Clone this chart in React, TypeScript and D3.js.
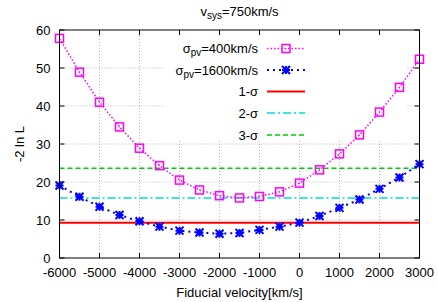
import * as d3 from "d3";

// fiducial velocity grid [km/s]
const velocities = [
  -6000, -5500, -5000, -4500, -4000, -3500, -3000, -2500, -2000, -1500,
  -1000, -500, 0, 500, 1000, 1500, 2000, 2500, 3000,
];
// -2 ln L, sigma_pv = 400 km/s
const lnL400 = [
  57.8, 48.9, 41.0, 34.5, 28.9, 24.3, 20.5, 17.9, 16.4, 15.8,
  16.2, 17.4, 19.7, 23.2, 27.4, 32.4, 38.4, 44.9, 52.3,
];
// -2 ln L, sigma_pv = 1600 km/s
const lnL1600 = [
  19.1, 16.1, 13.5, 11.3, 9.65, 8.25, 7.2, 6.7, 6.4, 6.6,
  7.4, 8.25, 9.3, 11.05, 13.2, 15.4, 18.2, 21.2, 24.7,
];
const sigmaLevels = [
  { name: "1-σ", value: 9.3, color: "#ff0000", dash: "", width: 2 },
  { name: "2-σ", value: 15.8, color: "#00dddd", dash: "8,3,2,3", width: 1.5 },
  { name: "3-σ", value: 23.6, color: "#00cc00", dash: "5,3", width: 1.5 },
];
const xTicks = [-6000, -5000, -4000, -3000, -2000, -1000, 0, 1000, 2000, 3000];
const yTicks = [0, 10, 20, 30, 40, 50, 60];

const W = 438;
const H = 302;
const margin = { top: 30, right: 18.5, bottom: 44, left: 59.5 };
const FONT = "'Liberation Sans', Arial, sans-serif";

function Square({ x, y }: { x: number; y: number }) {
  return (
    <g>
      <rect x={x - 4} y={y - 4} width={8} height={8} fill="none" stroke="#ff00ff" strokeWidth={1.5} />
      <rect x={x - 0.5} y={y - 0.5} width={1} height={1} fill="#ff00ff" />
    </g>
  );
}

function Star({ x, y }: { x: number; y: number }) {
  const r = 4;
  return (
    <path
      d={`M${x - r},${y}H${x + r}M${x},${y - r}V${y + r}M${x - r},${y - r}L${x + r},${y + r}M${x - r},${y + r}L${x + r},${y - r}`}
      stroke="#0000ff"
      strokeWidth={2}
      fill="none"
    />
  );
}

export default function App() {
  const innerW = W - margin.left - margin.right;
  const innerH = H - margin.top - margin.bottom;
  const x = d3.scaleLinear().domain([-6000, 3000]).range([margin.left, margin.left + innerW]);
  const y = d3.scaleLinear().domain([0, 60]).range([margin.top + innerH, margin.top]);

  const line = d3
    .line<number>()
    .x((_, i) => x(velocities[i]))
    .y((d) => y(d));

  const left = margin.left;
  const right = margin.left + innerW;
  const top = margin.top;
  const bottom = margin.top + innerH;

  // legend
  const legX = 258;
  const legLine = [267, 305];
  const legY = [48.5, 70, 91.5, 113, 135];

  return (
    <svg width={W} height={H} style={{ position: "absolute", left: 0, top: 0 }} fontFamily={FONT}>
      <rect width={W} height={H} fill="#fff" />
      {/* grid */}
      <g stroke="#a0a0a0" strokeWidth={0.8} strokeDasharray="1,2">
        {xTicks.slice(1, -1).map((t) => (
          <line key={"gx" + t} x1={x(t)} x2={x(t)} y1={top} y2={bottom} />
        ))}
        {yTicks.slice(1, -1).map((t) => (
          <line key={"gy" + t} x1={left} x2={right} y1={y(t)} y2={y(t)} />
        ))}
      </g>
      {/* opaque key box */}
      <rect x={163} y={35} width={243} height={106} fill="#fff" />

      {/* ticks */}
      <g stroke="#000" strokeWidth={1}>
        {xTicks.map((t) => (
          <g key={"tx" + t}>
            <line x1={x(t)} x2={x(t)} y1={bottom} y2={bottom - 5} />
            <line x1={x(t)} x2={x(t)} y1={top} y2={top + 5} />
          </g>
        ))}
        {yTicks.map((t) => (
          <g key={"ty" + t}>
            <line x1={left} x2={left + 5} y1={y(t)} y2={y(t)} />
            <line x1={right} x2={right - 5} y1={y(t)} y2={y(t)} />
          </g>
        ))}
      </g>

      {/* sigma levels */}
      {sigmaLevels.map((s) => (
        <line
          key={s.name}
          x1={left}
          x2={right}
          y1={y(s.value)}
          y2={y(s.value)}
          stroke={s.color}
          strokeWidth={s.width}
          strokeDasharray={s.dash || undefined}
        />
      ))}

      {/* series */}
      <path d={line(lnL400) ?? ""} fill="none" stroke="#ff00ff" strokeWidth={1.5} strokeDasharray="1.5,2" />
      <path d={line(lnL1600) ?? ""} fill="none" stroke="#0000ff" strokeWidth={2} strokeDasharray="2,4" />
      {lnL400.map((v, i) => (
        <Square key={"a" + i} x={x(velocities[i])} y={y(v)} />
      ))}
      {lnL1600.map((v, i) => (
        <Star key={"b" + i} x={x(velocities[i])} y={y(v)} />
      ))}

      {/* frame */}
      <rect x={left} y={top} width={innerW} height={innerH} fill="none" stroke="#000" strokeWidth={1} />

      {/* tick labels */}
      <g fontSize={13} fill="#000">
        {xTicks.map((t) => (
          <text key={"lx" + t} x={x(t)} y={bottom + 18.5} textAnchor="middle">
            {t}
          </text>
        ))}
        {yTicks.map((t) => (
          <text key={"ly" + t} x={left - 9} y={y(t) + 4.5} textAnchor="end">
            {t}
          </text>
        ))}
      </g>

      {/* axis labels */}
      <text x={(left + right) / 2} y={297} textAnchor="middle" fontSize={13}>
        Fiducial velocity[km/s]
      </text>
      <text transform={`translate(24,${(top + bottom) / 2}) rotate(-90)`} textAnchor="middle" fontSize={13}>
        -2 ln L
      </text>

      {/* title */}
      <text x={(left + right) / 2} y={16} textAnchor="middle" fontSize={13}>
        v<tspan fontSize={10} dy={3}>sys</tspan>
        <tspan dy={-3}>=750km/s</tspan>
      </text>

      {/* legend */}
      <g fontSize={13}>
        <text x={legX} y={legY[0] + 4.5} textAnchor="end">
          σ<tspan fontSize={10} dy={3}>pv</tspan>
          <tspan dy={-3}>=400km/s</tspan>
        </text>
        <line x1={legLine[0]} x2={legLine[1]} y1={legY[0]} y2={legY[0]} stroke="#ff00ff" strokeWidth={1.5} strokeDasharray="1.5,2" />
        <Square x={(legLine[0] + legLine[1]) / 2} y={legY[0]} />

        <text x={legX} y={legY[1] + 4.5} textAnchor="end">
          σ<tspan fontSize={10} dy={3}>pv</tspan>
          <tspan dy={-3}>=1600km/s</tspan>
        </text>
        <line x1={legLine[0]} x2={legLine[1]} y1={legY[1]} y2={legY[1]} stroke="#0000ff" strokeWidth={2} strokeDasharray="2,4" />
        <Star x={(legLine[0] + legLine[1]) / 2} y={legY[1]} />

        {sigmaLevels.map((s, i) => (
          <g key={"leg" + s.name}>
            <text x={legX} y={legY[i + 2] + 4.5} textAnchor="end">
              {s.name}
            </text>
            <line
              x1={legLine[0]}
              x2={legLine[1]}
              y1={legY[i + 2]}
              y2={legY[i + 2]}
              stroke={s.color}
              strokeWidth={s.width}
              strokeDasharray={s.dash || undefined}
            />
          </g>
        ))}
      </g>
    </svg>
  );
}
